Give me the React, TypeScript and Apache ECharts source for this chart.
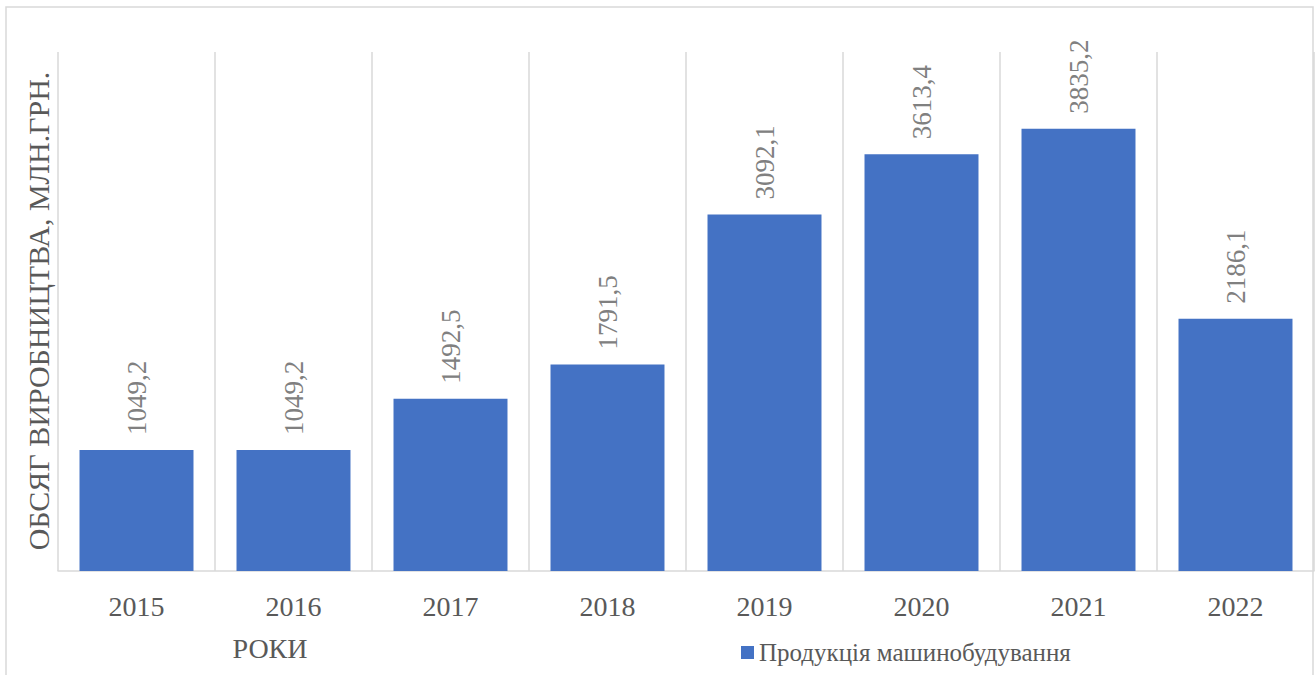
import React, { useEffect, useRef } from "react";
import * as echarts from "echarts";

const years = ["2015", "2016", "2017", "2018", "2019", "2020", "2021", "2022"];
const values = [1049.2, 1049.2, 1492.5, 1791.5, 3092.1, 3613.4, 3835.2, 2186.1];
const seriesName = "Продукція машинобудування";
const yAxisTitle = "ОБСЯГ ВИРОБНИЦТВА, МЛН.ГРН.";
const xAxisTitle = "РОКИ";

const FONT = "'Liberation Serif', 'Times New Roman', serif";

export default function App() {
  const ref = useRef<HTMLDivElement>(null);
  useEffect(() => {
    if (!ref.current) return;
    const chart = echarts.init(ref.current, null, { renderer: "svg" });
    chart.setOption({
      animation: false,
      backgroundColor: "#ffffff",
      grid: { left: 58, top: 52, right: 2, bottom: 104, containLabel: false },
      legend: {
        data: [seriesName],
        left: 736,
        top: 635,
        icon: "rect",
        itemWidth: 13,
        itemHeight: 13,
        itemGap: 6,
        textStyle: { fontFamily: FONT, fontSize: 25, color: "#595959" },
      },
      xAxis: {
        type: "category",
        data: years,
        axisTick: { show: false },
        axisLine: { lineStyle: { color: "#d9d9d9", width: 1.5 } },
        splitLine: { show: true, lineStyle: { color: "#d9d9d9", width: 1.5 } },
        axisLabel: { fontFamily: FONT, fontSize: 28, color: "#595959", margin: 21 },
      },
      yAxis: {
        type: "value",
        min: 0,
        max: 4500,
        axisLabel: { show: false },
        axisLine: { show: false },
        axisTick: { show: false },
        splitLine: { show: false },
      },
      graphic: [
        {
          type: "rect",
          shape: { x: 6, y: 7, width: 1307, height: 680 },
          style: { fill: "none", stroke: "#d9d9d9", lineWidth: 1.5 },
          silent: true,
        },
        {
          type: "text",
          x: 38,
          y: 311,
          rotation: Math.PI / 2,
          style: {
            text: yAxisTitle,
            fontFamily: FONT,
            fontSize: 30,
            fill: "#595959",
            align: "center",
            verticalAlign: "middle",
          },
        },
        {
          type: "text",
          x: 270,
          y: 648,
          style: {
            text: xAxisTitle,
            fontFamily: FONT,
            fontSize: 28,
            fill: "#595959",
            align: "center",
            verticalAlign: "middle",
          },
        },
      ],
      series: [
        {
          name: seriesName,
          type: "bar",
          data: values,
          barWidth: "72.6%",
          itemStyle: { color: "#4472C4" },
          label: {
            show: true,
            position: "top",
            rotate: 90,
            align: "left",
            verticalAlign: "middle",
            distance: 15,
            fontFamily: FONT,
            fontSize: 27,
            color: "#808080",
            formatter: (p: any) => String(p.value).replace(".", ","),
          },
        },
      ],
    });
    return () => chart.dispose();
  }, []);
  return (
    <div
      ref={ref}
      style={{ position: "fixed", left: 0, top: 0, width: 1316, height: 675 }}
    />
  );
}
